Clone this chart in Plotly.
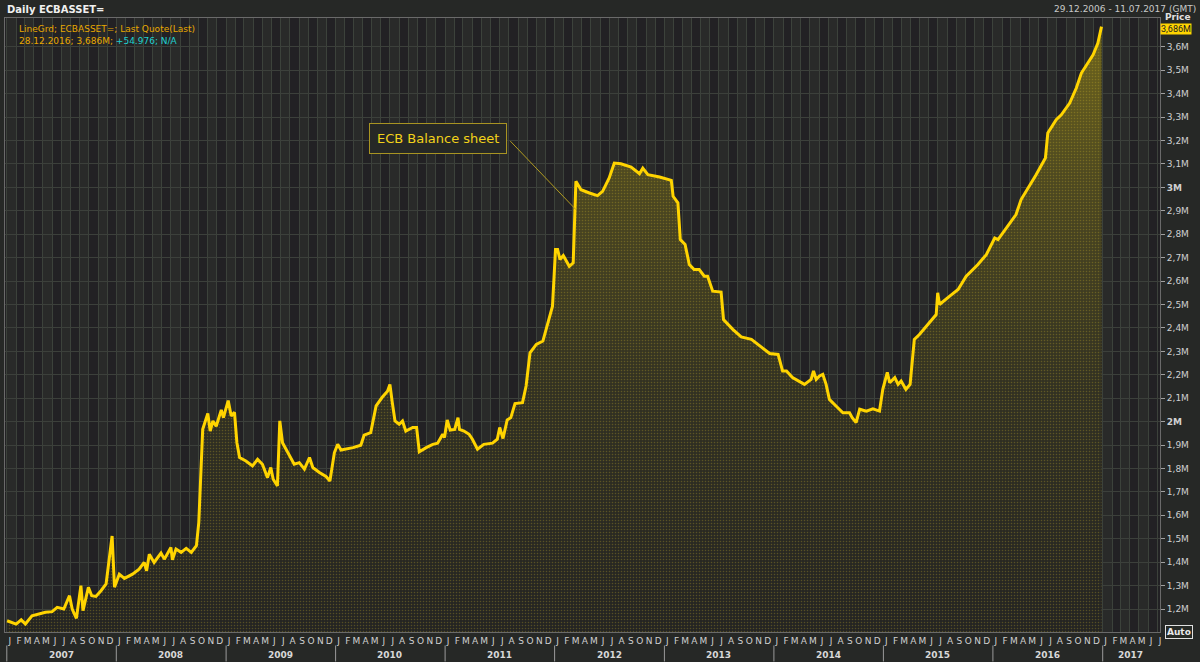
import plotly.graph_objects as go
import pandas as pd

# ECB total assets (EUR, shown in millions of millions -> "M")
dates = [
    "2007-01-02", "2007-02-01", "2007-02-18", "2007-03-04", "2007-03-26", "2007-04-18", "2007-05-10",
    "2007-06-01", "2007-06-18", "2007-07-10", "2007-07-29", "2007-08-07", "2007-08-21", "2007-09-05",
    "2007-09-12", "2007-09-30", "2007-10-11", "2007-10-25", "2007-11-11", "2007-11-28", "2007-12-09",
    "2007-12-18", "2007-12-26", "2008-01-11", "2008-01-28", "2008-02-24", "2008-03-17", "2008-04-03",
    "2008-04-11", "2008-04-20", "2008-05-06", "2008-05-29", "2008-06-09", "2008-07-01", "2008-07-06",
    "2008-07-18", "2008-08-04", "2008-08-21", "2008-09-07", "2008-09-24", "2008-10-02", "2008-10-15",
    "2008-11-01", "2008-11-09", "2008-11-18", "2008-11-29", "2008-12-16", "2008-12-23", "2009-01-08",
    "2009-01-18", "2009-01-29", "2009-02-06", "2009-02-15", "2009-03-08", "2009-03-30", "2009-04-16",
    "2009-05-02", "2009-05-19", "2009-05-30", "2009-06-07", "2009-06-21", "2009-06-29", "2009-07-08",
    "2009-07-30", "2009-08-16", "2009-09-02", "2009-09-19", "2009-10-06", "2009-10-17", "2009-11-08",
    "2009-11-30", "2009-12-13", "2009-12-28", "2010-01-08", "2010-01-19", "2010-02-28", "2010-03-26",
    "2010-04-06", "2010-04-28", "2010-05-16", "2010-06-06", "2010-06-23", "2010-07-01", "2010-07-09",
    "2010-07-18", "2010-08-01", "2010-08-12", "2010-08-23", "2010-09-15", "2010-09-28", "2010-10-07",
    "2010-10-30", "2010-11-21", "2010-12-07", "2010-12-24", "2010-12-30", "2011-01-08", "2011-01-18",
    "2011-02-02", "2011-02-13", "2011-02-18", "2011-03-05", "2011-03-22", "2011-04-02", "2011-04-19",
    "2011-05-10", "2011-06-08", "2011-06-24", "2011-07-02", "2011-07-13", "2011-07-27", "2011-08-08",
    "2011-08-22", "2011-09-16", "2011-09-28", "2011-10-11", "2011-11-01", "2011-11-23", "2011-12-03",
    "2011-12-25", "2012-01-04", "2012-01-11", "2012-01-19", "2012-01-30", "2012-02-19", "2012-03-03",
    "2012-03-12", "2012-03-29", "2012-04-26", "2012-05-23", "2012-06-09", "2012-07-01", "2012-07-18",
    "2012-08-09", "2012-09-12", "2012-10-10", "2012-10-21", "2012-11-07", "2012-12-16", "2013-01-24",
    "2013-01-30", "2013-02-15", "2013-02-23", "2013-03-11", "2013-03-25", "2013-04-10", "2013-04-27",
    "2013-05-14", "2013-05-25", "2013-06-11", "2013-07-09", "2013-07-17", "2013-08-17", "2013-09-14",
    "2013-10-18", "2013-11-15", "2013-12-18", "2014-01-15", "2014-01-30", "2014-02-12", "2014-03-04",
    "2014-04-13", "2014-05-05", "2014-05-13", "2014-05-22", "2014-06-02", "2014-06-13", "2014-06-24",
    "2014-07-05", "2014-07-27", "2014-08-19", "2014-09-10", "2014-09-19", "2014-10-02", "2014-10-14",
    "2014-11-05", "2014-11-27", "2014-12-19", "2014-12-30", "2015-01-14", "2015-01-22", "2015-02-08",
    "2015-02-19", "2015-03-01", "2015-03-17", "2015-03-31", "2015-04-14", "2015-05-01", "2015-05-29",
    "2015-06-26", "2015-07-01", "2015-07-07", "2015-08-10", "2015-09-07", "2015-10-04", "2015-11-12",
    "2015-12-10", "2016-01-07", "2016-01-18", "2016-02-15", "2016-03-18", "2016-04-04", "2016-04-21",
    "2016-05-24", "2016-06-24", "2016-07-02", "2016-07-30", "2016-08-16", "2016-09-13", "2016-10-05",
    "2016-10-22", "2016-11-30", "2016-12-16", "2016-12-28",
]
values = [
    1.150, 1.136, 1.154, 1.136, 1.171, 1.179, 1.186,
    1.189, 1.207, 1.200, 1.257, 1.200, 1.160, 1.300,
    1.193, 1.293, 1.257, 1.254, 1.278, 1.307, 1.413,
    1.512, 1.293, 1.349, 1.331, 1.349, 1.370, 1.399,
    1.363, 1.434, 1.399, 1.439, 1.413, 1.463, 1.410,
    1.456, 1.442, 1.459, 1.442, 1.470, 1.570, 1.967,
    2.035, 1.960, 2.003, 1.980, 2.050, 2.017, 2.090,
    2.024, 2.040, 1.910, 1.847, 1.832, 1.811, 1.839,
    1.818, 1.761, 1.804, 1.754, 1.726, 2.003, 1.910,
    1.861, 1.818, 1.825, 1.797, 1.847, 1.804, 1.783,
    1.766, 1.747, 1.868, 1.903, 1.879, 1.889, 1.899,
    1.942, 1.953, 2.067, 2.105, 2.130, 2.159, 2.081,
    2.003, 1.989, 2.003, 1.960, 1.975, 1.975, 1.871,
    1.889, 1.903, 1.908, 1.946, 1.932, 2.007, 1.964,
    1.967, 2.017, 1.967, 1.960, 1.946, 1.925, 1.882,
    1.903, 1.908, 1.925, 1.975, 1.928, 2.007, 2.017,
    2.077, 2.081, 2.152, 2.294, 2.330, 2.344, 2.394,
    2.493, 2.735, 2.735, 2.692, 2.709, 2.663, 2.678,
    3.026, 2.990, 2.976, 2.965, 2.983, 3.040, 3.104,
    3.101, 3.087, 3.058, 3.082, 3.054, 3.044, 3.030,
    2.962, 2.934, 2.777, 2.756, 2.671, 2.649, 2.649,
    2.621, 2.621, 2.557, 2.553, 2.436, 2.394, 2.362,
    2.351, 2.322, 2.291, 2.287, 2.216, 2.216, 2.188,
    2.159, 2.180, 2.216, 2.180, 2.195, 2.202, 2.159,
    2.095, 2.067, 2.038, 2.038, 2.017, 1.996, 2.053,
    2.045, 2.055, 2.045, 2.138, 2.210, 2.166, 2.188,
    2.159, 2.173, 2.138, 2.159, 2.351, 2.372, 2.415,
    2.457, 2.550, 2.500, 2.536, 2.564, 2.621, 2.671,
    2.713, 2.784, 2.777, 2.827, 2.884, 2.948, 2.983,
    3.054, 3.125, 3.232, 3.289, 3.310, 3.360, 3.424,
    3.488, 3.566, 3.616, 3.686,
]

y_ticks = [1.2, 1.3, 1.4, 1.5, 1.6, 1.7, 1.8, 1.9, 2.0, 2.1, 2.2, 2.3, 2.4,
           2.5, 2.6, 2.7, 2.8, 2.9, 3.0, 3.1, 3.2, 3.3, 3.4, 3.5, 3.6]
y_labels = ["1,2M", "1,3M", "1,4M", "1,5M", "1,6M", "1,7M", "1,8M", "1,9M", "<b>2M</b>",
            "2,1M", "2,2M", "2,3M", "2,4M", "2,5M", "2,6M", "2,7M", "2,8M", "2,9M", "<b>3M</b>",
            "3,1M", "3,2M", "3,3M", "3,4M", "3,5M", "3,6M"]
month_letters = ["J", "F", "M", "A", "M", "J", "J", "A", "S", "O", "N", "D"]
years = [2007, 2008, 2009, 2010, 2011, 2012, 2013, 2014, 2015, 2016, 2017]

FONT = "DejaVu Sans"
LINE = "#ffd400"

month_starts = pd.date_range("2007-01-01", "2017-07-01", freq="MS")
month_text = [month_letters[d.month - 1] for d in month_starts]

fig = go.Figure()
fig.add_trace(go.Scatter(
    x=dates, y=values, mode="lines", fill="tozeroy",
    line=dict(color="rgba(0,0,0,0)", width=0),
    fillgradient=dict(type="vertical", start=1.1, stop=3.7,
                      colorscale=[[0, "rgb(36,36,34)"], [0.4, "rgb(50,49,34)"], [0.75, "rgb(78,73,32)"],
                                  [1, "rgb(112,102,28)"]]),
    hoverinfo="skip", showlegend=False,
))
fig.add_trace(go.Scatter(
    x=dates, y=values, mode="lines", fill="tozeroy",
    line=dict(color=LINE, width=3),
    fillpattern=dict(shape=".", fgcolor="rgba(215,190,40,0.55)", bgcolor="rgba(0,0,0,0)",
                     size=3, solidity=0.2),
    showlegend=False,
))

shapes = []
# alternating month column shading
for i in range(len(month_starts) - 1):
    if i % 2 == 0:
        shapes.append(dict(type="rect", xref="x", yref="paper", layer="below",
                           x0=month_starts[i], x1=month_starts[i + 1], y0=0, y1=1,
                           fillcolor="rgba(52,58,50,0.4)", line=dict(width=0)))
# year separators in the bottom axis band
for yr in years:
    shapes.append(dict(type="line", xref="x", yref="paper", x0=f"{yr}-01-01", x1=f"{yr}-01-01",
                       y0=-0.022, y1=-0.048, line=dict(color="#9a9a9a", width=1)))

annotations = []
for yr in years:
    mid = f"{yr}-07-01" if yr < 2017 else "2017-04-05"
    annotations.append(dict(x=mid, y=-0.038, xref="x", yref="paper", text=f"<b>{yr}</b>",
                            showarrow=False, yanchor="middle",
                            font=dict(family=FONT, size=9, color="#d8d8d8")))

# header texts
annotations += [
    dict(x=0.0, y=1.0, xref="paper", yref="paper", xanchor="left", yanchor="bottom", yshift=1,
         text="<b>Daily ECBASSET=</b>", showarrow=False, font=dict(family=FONT, size=10, color="#f0f0f0")),
    dict(x=1.033, y=1.0, xref="paper", yref="paper", xanchor="right", yanchor="bottom", yshift=2,
         text="29.12.2006 - 11.07.2017 (GMT)", showarrow=False, font=dict(family=FONT, size=9, color="#c8c8c8")),
    dict(x=0.01, y=0.993, xref="paper", yref="paper", xanchor="left", yanchor="top",
         text="LineGrd; ECBASSET=; Last Quote(Last)<br>28.12.2016; 3,686M; <span style='color:#20d0d0'>+54.976; N/A</span>",
         align="left", showarrow=False, font=dict(family=FONT, size=9, color="#e8a800")),
    dict(x=1.003, y=1.0, xref="paper", yref="paper", xanchor="left", yanchor="middle", yshift=1,
         text="<b>Price</b>", showarrow=False, font=dict(family=FONT, size=9, color="#e0e0e0")),
    dict(x=1.0, y=3.686, xref="paper", yref="y", xanchor="left", yanchor="middle", yshift=-2,
         text="3,686M", showarrow=False, bgcolor="#ffd400", borderpad=0,
         font=dict(family="Roboto", size=9, color="#202020")),
    dict(x=1.004, y=0.0, xref="paper", yref="paper", xanchor="left", yanchor="middle",
         text="<b>Auto</b>", showarrow=False, bordercolor="#e0e0e0", borderwidth=1, borderpad=1,
         bgcolor="#262a26", font=dict(family=FONT, size=9, color="#e8e8e8")),
    # callout line
    dict(x="2012-03-12", y=2.905, xref="x", yref="y", ax=-67, ay=-70, text="",
         showarrow=True, arrowhead=0, arrowwidth=1, arrowcolor="#b09a20"),
    # callout box
    dict(x=0.3745, y=0.829, xref="paper", yref="paper", text="ECB Balance sheet",
         showarrow=False, bgcolor="#262826", bordercolor="#a89422", borderwidth=1, borderpad=7,
         font=dict(family=FONT, size=13, color="#f2d21a")),
]

fig.update_layout(
    width=1200, height=662,
    margin=dict(l=5, r=40, t=18, b=30),
    paper_bgcolor="#262826", plot_bgcolor="#222124",
    shapes=shapes, annotations=annotations,
    xaxis=dict(type="date", range=["2006-12-26", "2017-07-11"],
               tickmode="array", tickvals=list(month_starts), ticktext=month_text,
               ticklabelshift=3, ticks="", showgrid=True, gridcolor="#3c423b", gridwidth=1,
               tickfont=dict(family=FONT, size=9, color="#d0d0d0"), zeroline=False,
               showline=True, linecolor="#6a6a6a", mirror=True, tickangle=0),
    yaxis=dict(side="right", range=[1.102, 3.723], tickmode="array", tickvals=y_ticks, ticktext=y_labels,
               ticks="outside", ticklen=4, tickcolor="#a0a0a0", showgrid=True, gridcolor="#3c403b",
               tickfont=dict(family=FONT, size=9, color="#d0d0d0"), zeroline=False,
               showline=True, linecolor="#6a6a6a", mirror=True),
)

fig.write_html("out.html", config={"displayModeBar": False},
               post_script="document.body.style.margin='0';document.body.style.overflow='hidden';")
